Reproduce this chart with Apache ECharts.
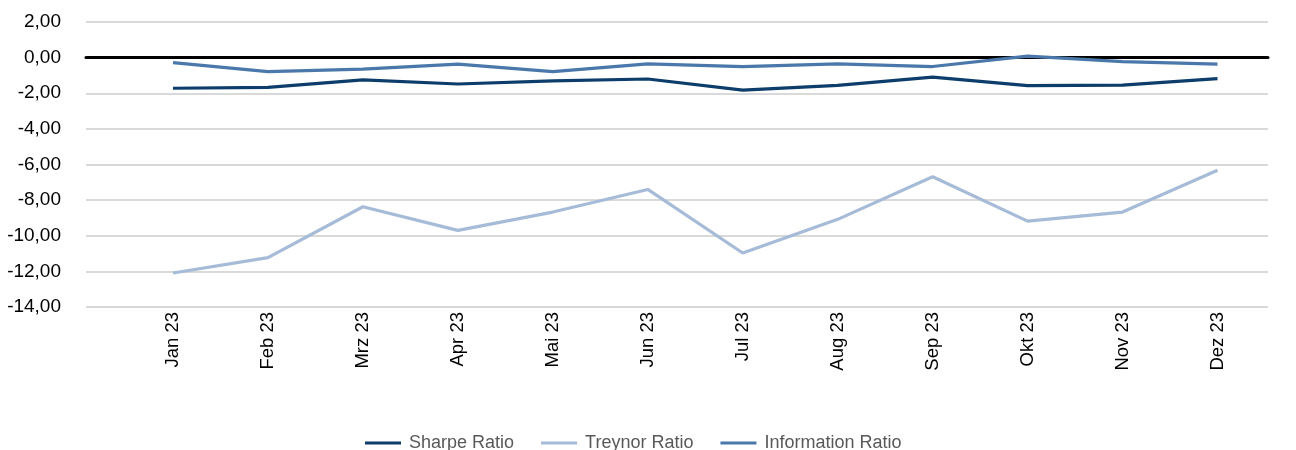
<!DOCTYPE html>
<html>
<head>
<meta charset="utf-8">
<script src="https://cdn.jsdelivr.net/npm/echarts@6/dist/echarts.min.js"></script>
<style>
  html, body { margin: 0; padding: 0; background: #fff; }
  #chart { width: 1296px; height: 450px; }
</style>
</head>
<body>
<div id="chart"></div>
<script>
// Daten
const months = ['Jan 23', 'Feb 23', 'Mrz 23', 'Apr 23', 'Mai 23', 'Jun 23',
                'Jul 23', 'Aug 23', 'Sep 23', 'Okt 23', 'Nov 23', 'Dez 23'];
const sharpe = [-1.72, -1.67, -1.25, -1.48, -1.31, -1.20, -1.82, -1.56, -1.10, -1.57, -1.54, -1.18];
const treynor = [-12.09, -11.23, -8.37, -9.70, -8.67, -7.40, -10.97, -9.08, -6.69, -9.18, -8.67, -6.32];
const information = [-0.28, -0.79, -0.65, -0.37, -0.79, -0.35, -0.50, -0.35, -0.50, 0.08, -0.22, -0.37];
const yMin = -14, yMax = 2, yStep = 2;

const font = '"Liberation Sans", Arial, sans-serif';
const chart = echarts.init(document.getElementById('chart'));

const option = {
  animation: false,
  textStyle: { fontFamily: font },
  legend: {
    data: ['Sharpe Ratio', 'Treynor Ratio', 'Information Ratio'],
    top: 429,
    left: 360,
    icon: 'rect',
    itemWidth: 36,
    itemHeight: 3,
    itemGap: 27,
    textStyle: { fontSize: 18, color: '#595959', fontFamily: font, padding: [0, 0, 0, 3] }
  },
  // grid 0: Achse + Gitterlinien, grid 1: Kategorien + Linien
  grid: [
    { left: 86, right: 28, top: 22, height: 285 },
    { left: 125.5, right: 31, top: 22, height: 285 }
  ],
  xAxis: [
    {
      gridIndex: 0,
      type: 'value',
      min: 0,
      max: 1,
      axisLine: { show: true, onZero: true, lineStyle: { color: '#000', width: 3 } },
      axisTick: { show: false },
      axisLabel: { show: false },
      splitLine: { show: false }
    },
    {
      gridIndex: 1,
      type: 'category',
      data: months,
      boundaryGap: true,
      axisLine: { show: false },
      axisTick: { show: false },
      axisLabel: { rotate: 90, margin: 5, fontSize: 18.5, color: '#000', fontFamily: font }
    }
  ],
  yAxis: [
    {
      gridIndex: 0,
      type: 'value',
      min: yMin,
      max: yMax,
      interval: yStep,
      axisLine: { show: false },
      axisTick: { show: false },
      axisLabel: {
        margin: 25,
        fontSize: 19,
        color: '#000',
        fontFamily: font,
        formatter: v => v.toFixed(2).replace('.', ',')
      },
      splitLine: { lineStyle: { color: '#d9d9d9', width: 2 } }
    },
    {
      gridIndex: 1,
      type: 'value',
      min: yMin,
      max: yMax,
      show: false
    }
  ],
  series: [
    {
      name: 'Sharpe Ratio',
      type: 'line',
      xAxisIndex: 1,
      yAxisIndex: 1,
      data: sharpe,
      showSymbol: false,
      itemStyle: { color: '#0d3d6b' },
      lineStyle: { color: '#0d3d6b', width: 3.2 }
    },
    {
      name: 'Treynor Ratio',
      type: 'line',
      xAxisIndex: 1,
      yAxisIndex: 1,
      data: treynor,
      showSymbol: false,
      itemStyle: { color: '#a6bbd7' },
      lineStyle: { color: '#a6bbd7', width: 3.2 }
    },
    {
      name: 'Information Ratio',
      type: 'line',
      xAxisIndex: 1,
      yAxisIndex: 1,
      data: information,
      showSymbol: false,
      itemStyle: { color: '#4a78ab' },
      lineStyle: { color: '#4a78ab', width: 3.2 }
    }
  ]
};

chart.setOption(option);
</script>
</body>
</html>
